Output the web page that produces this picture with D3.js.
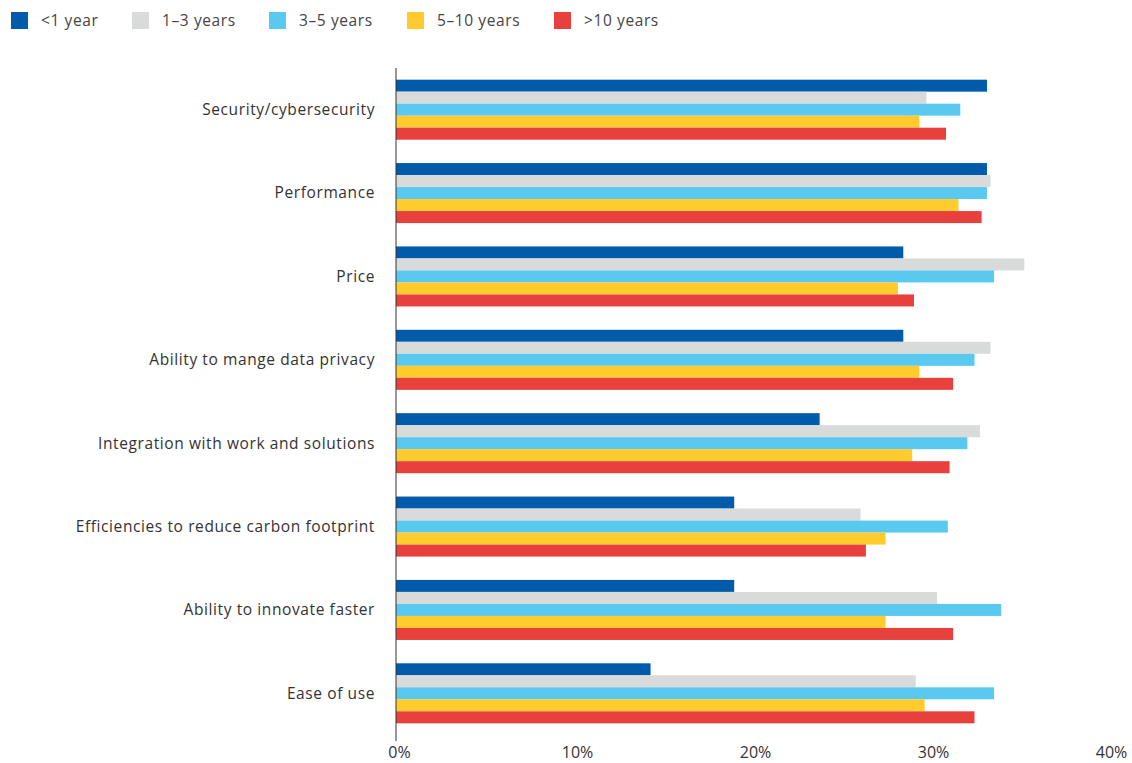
<!DOCTYPE html>
<html><head><meta charset="utf-8">
<script src="https://cdn.jsdelivr.net/npm/d3@7"></script>
<style>body{margin:0;background:#fff}svg{display:block;font-family:"Open Sans","Liberation Sans",sans-serif}</style>
</head><body>
<svg id="c" width="1132" height="763"></svg>
<script>
const categories = ["Security/cybersecurity","Performance","Price","Ability to mange data privacy","Integration with work and solutions","Efficiencies to reduce carbon footprint","Ability to innovate faster","Ease of use"];
const seriesNames = ["<1 year","1–3 years","3–5 years","5–10 years",">10 years"];
const seriesColors = ["#005BAA","#D9DADA","#59C9F0","#FFCB2D","#E8403C"];
const lessThan1 = [33.2,33.2,28.5,28.5,23.8,19.0,19.0,14.3];
const oneToThree = [29.8,33.4,35.3,33.4,32.8,26.1,30.4,29.2];
const threeToFive = [31.7,33.2,33.6,32.5,32.1,31.0,34.0,33.6];
const fiveToTen = [29.4,31.6,28.2,29.4,29.0,27.5,27.5,29.7];
const moreThan10 = [30.9,32.9,29.1,31.3,31.1,26.4,31.3,32.5];
const seriesValues = [lessThan1, oneToThree, threeToFive, fiveToTen, moreThan10];
const tickValues = [0,10,20,30,40];
const legendX = [11,132,269,407,554];

const svg = d3.select("#c");
const x = d3.scaleLinear().domain([0,40]).range([396,1108]);
const y0 = d3.scaleBand().domain(categories).range([68,735]).paddingInner(0.28).paddingOuter(0.14);
const y1 = d3.scaleBand().domain(seriesNames).range([0,y0.bandwidth()]);

const g = svg.append("g");
categories.forEach((c,i)=>{
  const grp = g.append("g").attr("transform",`translate(0,${y0(c)})`);
  seriesNames.forEach((s,j)=>{
    grp.append("rect").attr("x",x(0)).attr("y",y1(s)).attr("width",x(seriesValues[j][i])-x(0))
      .attr("height",y1.bandwidth()).attr("fill",seriesColors[j]);
  });
  svg.append("text").attr("x",375).attr("y",y0(c)+y0.bandwidth()/2).attr("dy","0.35em")
    .attr("text-anchor","end").attr("font-size",15.5).attr("letter-spacing","0.6px").attr("fill","#333").text(c);
});

svg.append("line").attr("x1",396).attr("x2",396).attr("y1",68).attr("y2",741).attr("stroke","#333").attr("stroke-width",1);

const xa = svg.append("g").attr("transform","translate(0,752)")
  .call(d3.axisBottom(x).tickValues(tickValues).tickSize(0).tickPadding(0).tickFormat(d=>d+"%"));
xa.select(".domain").remove();
xa.selectAll("text").attr("font-size",16).attr("fill","#333").attr("font-family","'Open Sans','Liberation Sans',sans-serif")
  .attr("dy","0.35em").attr("dx",3);

const lg = svg.append("g");
seriesNames.forEach((s,j)=>{
  lg.append("rect").attr("x",legendX[j]).attr("y",12).attr("width",17).attr("height",17).attr("fill",seriesColors[j]);
  lg.append("text").attr("x",legendX[j]+30).attr("y",21).attr("dy","0.35em").attr("font-size",15.5).attr("letter-spacing","0.6px").attr("fill","#444").text(s);
});
</script>
</body></html>
